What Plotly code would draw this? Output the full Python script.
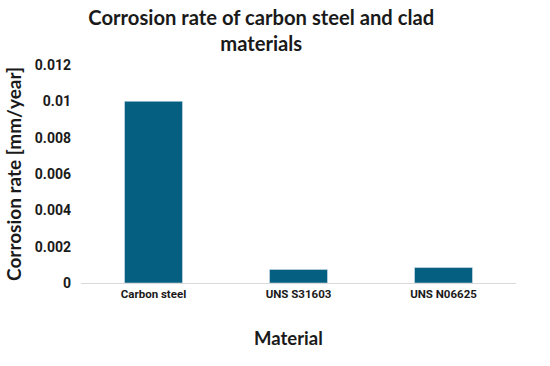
import plotly.graph_objects as go

materials = ["Carbon steel", "UNS S31603", "UNS N06625"]
corrosion_rate = [0.01, 0.00075, 0.00085]
y_ticks = [0, 0.002, 0.004, 0.006, 0.008, 0.01, 0.012]
y_tick_labels = ["0", "0.002", "0.004", "0.006", "0.008", "0.01", "0.012"]

W, H = 550, 366
ML, MR, MT, MB = 81, 34, 65, 83

fig = go.Figure(go.Bar(x=materials, y=corrosion_rate, marker_color="#045f80", width=0.4))

plot_w = W - ML - MR
plot_h = H - MT - MB

fig.update_layout(
    width=W, height=H,
    margin=dict(l=ML, r=MR, t=MT, b=MB),
    paper_bgcolor="white", plot_bgcolor="white",
    font=dict(family="Roboto", color="#1a1a1a"),
    title=dict(text="<b>Corrosion rate of carbon steel and clad<br>materials</b>",
               x=0.475, xanchor="center", y=0.932, yanchor="top",
               font=dict(size=20.2, family="Lato", color="#1a1a1a")),
    showlegend=False,
    bargap=0.6,
    annotations=[dict(text="<b>Material</b>", xref="paper", yref="paper",
                      x=(288.5 - ML) / plot_w, y=(H - MB - 338) / plot_h,
                      xanchor="center", yanchor="middle",
                      showarrow=False, font=dict(size=18.5, family="Lato", color="#1a1a1a"))],
)

fig.update_xaxes(
    automargin=False,
    showgrid=False, showline=True, linecolor="#d9d9d9", linewidth=1,
    ticks="", tickfont=dict(size=11.5, family="Roboto", weight="bold"),
)
fig.update_yaxes(
    automargin=False,
    range=[0, 0.012], tickvals=y_ticks, ticktext=y_tick_labels,
    showgrid=False, zeroline=False, showline=False,
    tickfont=dict(size=14, family="Roboto", weight="bold"), ticklabelstandoff=9,
    title=dict(text="<b>Corrosion rate [mm/year]</b>", font=dict(size=19, family="Lato"), standoff=8),
)

fig.write_html("out.html", config={"displayModeBar": False},
               post_script="document.body.style.margin='0';")
